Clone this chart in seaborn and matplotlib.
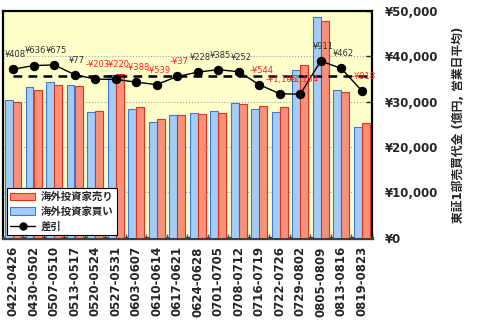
import matplotlib
matplotlib.use("Agg")
import matplotlib.pyplot as plt
import matplotlib.ticker as mticker
from matplotlib.lines import Line2D
from matplotlib.patches import Patch
import numpy as np
import pandas as pd
import seaborn as sns

# Weekly periods (MMDD-MMDD)
weeks = ["0422-0426", "0430-0502", "0507-0510", "0513-0517", "0520-0524",
         "0527-0531", "0603-0607", "0610-0614", "0617-0621", "0624-0628",
         "0701-0705", "0708-0712", "0716-0719", "0722-0726", "0729-0802",
         "0805-0809", "0813-0816", "0819-0823"]

# Foreign investors' buying / selling (100 million yen, daily average)
buy = [30450, 33250, 34300, 33660, 27700, 35950, 28400, 25580, 27000,
       27600, 27880, 29710, 28460, 27750, 37000, 48700, 32650, 24400]
sell = [30040, 32610, 33620, 33580, 27900, 36170, 28790, 26120, 27040,
        27370, 27500, 29460, 29000, 28850, 38130, 47790, 32190, 25320]

# Net balance (buy - sell)
net = [408, 636, 675, 77, -203, -220, -388, -539, -37, 228, 385, 252,
       -544, -1105, -1134, 911, 462, -918]

BUY_LABEL = "海外投資家買い"
SELL_LABEL = "海外投資家売り"
NET_LABEL = "差引"

sns.set_style("white")
plt.rcParams["font.family"] = ["DejaVu Sans", "Noto Sans CJK JP"]

df = pd.DataFrame({
    "week": weeks * 2,
    "amount": buy + sell,
    "side": [BUY_LABEL] * len(weeks) + [SELL_LABEL] * len(weeks),
})

fig = plt.figure(figsize=(4.8, 3.35), dpi=100)
ax = fig.add_axes([0.006, 0.290, 0.769, 0.677])
ax.set_facecolor("#ffffcc")

blue_face, blue_edge = "#a3cdf8", "#3f78d8"
red_face, red_edge = "#f8917a", "#e2331c"

sns.barplot(data=df, x="week", y="amount", hue="side",
            hue_order=[BUY_LABEL, SELL_LABEL],
            palette={BUY_LABEL: blue_face, SELL_LABEL: red_face},
            width=0.8, gap=0.04, saturation=1, legend=False, ax=ax, zorder=3)
for bars, edge in zip(ax.containers, [blue_edge, red_edge]):
    for p in bars:
        p.set_edgecolor(edge)
        p.set_linewidth(0.8)

# Net balance on a hidden secondary scale
ax2 = ax.twinx()
sns.pointplot(x=weeks, y=net, color="black", markers="o", markersize=6,
              linewidth=1, ax=ax2, zorder=5)
ax2.set_ylim(-10000, 4000)
ax2.set_xlim(-0.5, len(weeks) - 0.5)
ax2.set_yticks([])
ax2.set_ylabel("")
for s in ax2.spines.values():
    s.set_visible(False)
ax2.axhline(0, xmin=0.5 / len(weeks), xmax=1, color="black",
            linestyle=(0, (3.5, 2.5)), linewidth=1.8, zorder=4)

# Trading value scale on the right
ax.set_ylim(0, 50000)
ax.set_xlim(-0.5, len(weeks) - 0.5)
ax.yaxis.tick_right()
ax.yaxis.set_label_position("right")
ax.yaxis.set_major_locator(mticker.MultipleLocator(10000))
ax.yaxis.set_major_formatter(mticker.FuncFormatter(lambda v, p: f"¥{int(v):,}"))
ax.grid(axis="y", color="#a0a0b8", linestyle=":", linewidth=0.8, zorder=0)
ax.set_axisbelow(True)
ax.tick_params(axis="y", direction="in", length=4, width=1, pad=9,
               labelsize=8.5, right=True, left=False,
               labelright=True, labelleft=False)
for t in ax.get_yticklabels():
    t.set_fontweight("bold")
ax.set_xlabel("")
ax.set_ylabel("東証1部売買代金 (億円, 営業日平均)", fontsize=8.5,
              fontweight="bold", labelpad=10)
ax.tick_params(axis="x", which="major", length=0, pad=6, labelsize=8.5,
               labelrotation=90)
for t in ax.get_xticklabels():
    t.set_fontweight("bold")
ax.set_xticks(np.arange(len(weeks)) + 0.5, minor=True)
ax.tick_params(axis="x", which="minor", direction="in", length=3,
               width=1, color="#555555", bottom=True)
for s in ax.spines.values():
    s.set_linewidth(1.6)
    s.set_color("black")
ax.spines["bottom"].set_linewidth(2.4)
ax.spines["bottom"].set_color("#404040")

for i, v in enumerate(net):
    txt = f"¥{v:,}" if v >= 0 else f"-¥{abs(v):,}"
    col = "#333333" if v >= 0 else "#ff2222"
    ax2.annotate(txt, (i, v), xytext=(1.5, 10.5), textcoords="offset points",
                 ha="center", va="center", fontsize=6, color=col,
                 annotation_clip=False, zorder=6)

handles = [
    Patch(facecolor=red_face, edgecolor=red_edge, linewidth=0.8, label=SELL_LABEL),
    Patch(facecolor=blue_face, edgecolor=blue_edge, linewidth=0.8, label=BUY_LABEL),
    Line2D([], [], color="black", marker="o", markersize=5, linewidth=1,
           label=NET_LABEL),
]
leg = ax2.legend(handles=handles, loc="lower left", bbox_to_anchor=(0.01, 0.012),
                 borderaxespad=0, frameon=True, fancybox=False, framealpha=1,
                 edgecolor="black", handlelength=2.4, handleheight=0.7,
                 handletextpad=0.5, borderpad=0.35, labelspacing=0.45,
                 prop={"size": 7.5, "weight": "bold"})
leg.get_frame().set_linewidth(0.8)

fig.savefig("out.png", dpi=100)
